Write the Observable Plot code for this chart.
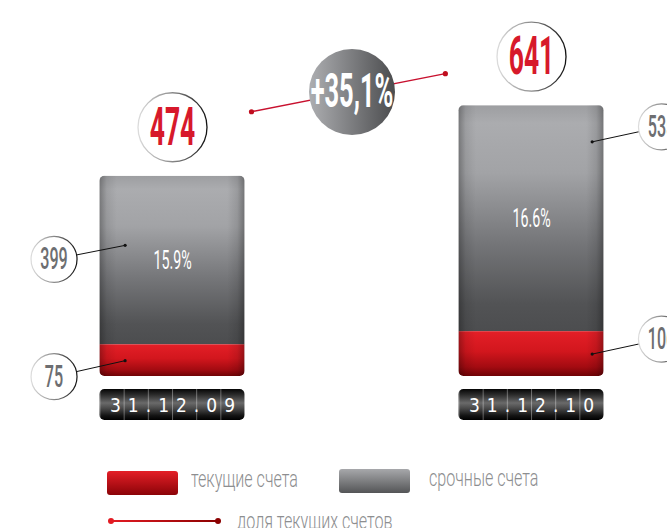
<!DOCTYPE html>
<html><head><meta charset="utf-8">
<script src="https://cdn.jsdelivr.net/npm/d3@7"></script>
<script src="https://cdn.jsdelivr.net/npm/@observablehq/plot@0.6"></script>
<style>
html,body{margin:0;padding:0;background:#fff;}
#wrap{width:667px;height:528px;overflow:hidden;position:relative;}
#chart svg{display:block;}
#legend{position:relative;height:68px;font-family:Roboto,sans-serif;color:#8d8e90;}
.sw{position:absolute;border-radius:3px;}
.lt{position:absolute;font-size:23px;font-weight:300;transform:scaleX(0.7);transform-origin:0 50%;white-space:nowrap;line-height:1;}
.ln{position:absolute;height:2px;background:linear-gradient(to right,#e31b23,#8b0000);}
.ld{position:absolute;width:6px;height:6px;border-radius:50%;}
</style></head><body>
<div id="wrap"><div id="chart"></div><div id="legend"></div></div>
<script>
// ---- data ----
const dates = ["31.12.09", "31.12.10"];
const currentAccounts = [75, 106];
const termDeposits = [399, 535];
const totals = [474, 641];
const shareLabels = ["15.9%", "16.6%"];
const growthLabel = "+35,1%";
const seriesNames = ["текущие счета", "срочные счета"];
const lineName = "доля текущих счетов";

// ---- layout ----
const yMax = 890, yPx = 376;
const k = yMax / yPx;          // value units per pixel
const hw = 0.202;              // half bar width in x units
const lift = 49 * k;           // total circle above bar top
const layout = [
  {circleX: -0.33, dotX: -0.132, greyFrac: 0.59, greyDy: 14, redDy: 16},
  {circleX: 0.362, dotX: 0.169, greyFrac: 0.84, greyDy: -15, redDy: -15}
];

const rows = dates.map((date, i) => ({
  i, date, cur: currentAccounts[i], term: termDeposits[i], total: totals[i], share: shareLabels[i]
}));
const segLabels = rows.flatMap(r => {
  const L = layout[r.i];
  const gy = r.cur + r.term * L.greyFrac;
  const ry = r.cur / 2;
  return [
    {x1: r.i + L.dotX, y1: gy, x2: r.i + L.circleX, y2: gy - L.greyDy * k, label: String(r.term)},
    {x1: r.i + L.dotX, y1: ry, x2: r.i + L.circleX, y2: ry - L.redDy * k, label: String(r.cur)}
  ];
});
const along = t => ({x: t, y: totals[0] + (totals[1] - totals[0]) * t + lift});
const conn = [along(0.22), along(0.76)];
const mid = along(0.5);

const barX = {x1: d => d.i - hw, x2: d => d.i + hw};

// horizontal condensing factor per text size (display face is very narrow)
const squeeze = {"54": 0.49, "48": 0.53, "31": 0.52, "25": 0.57};

const svg = Plot.plot({
  width: 667, height: 460,
  marginTop: 0, marginRight: 0, marginBottom: 0, marginLeft: 0,
  x: {domain: [-0.4791, 1.3788], range: [0, 667], axis: null},
  y: {domain: [0, yMax], range: [yPx, 0], axis: null},
  style: {background: "white", overflow: "hidden"},
  marks: [
    Plot.line(conn, {x: "x", y: "y", stroke: "#c8102e", strokeWidth: 1.5}),
    Plot.dot(conn, {x: "x", y: "y", r: 2.6, fill: "#c00d1e"}),
    Plot.dot([mid], {x: "x", y: "y", r: 43, fill: "url(#gGrowth)"}),
    Plot.text([mid], {x: "x", y: "y", text: () => growthLabel, fill: "white", fontSize: 48, fontWeight: 700, fontFamily: "Roboto"}),
    Plot.dot(rows, {x: "i", y: d => d.total + lift, r: 34.5, fill: "white", stroke: "url(#gRing)", strokeWidth: 1.3}),
    Plot.text(rows, {x: "i", y: d => d.total + lift, text: d => String(d.total), fill: "#d7192b", fontSize: 54, fontWeight: 700, fontFamily: "Roboto"}),
    Plot.rect(rows, {...barX, y1: "cur", y2: "total", fill: "url(#gGrey)"}),
    Plot.rect(rows, {...barX, y1: () => 0, y2: "cur", fill: "url(#gRed)"}),
    Plot.rect(rows, {...barX, y1: () => 0, y2: "total", fill: "url(#gShade)", rx: 5}),
    Plot.text(rows, {x: "i", y: d => d.cur + d.term / 2, text: "share", fill: "white", fontSize: 25, fontFamily: "Roboto"}),
    Plot.link(segLabels, {x1: "x1", y1: "y1", x2: "x2", y2: "y2", stroke: "#111", strokeWidth: 1}),
    Plot.dot(segLabels, {x: "x1", y: "y1", r: 1.6, fill: "#111"}),
    Plot.dot(segLabels, {x: "x2", y: "y2", r: 23, fill: "white", stroke: "url(#gRing)", strokeWidth: 1.2}),
    Plot.text(segLabels, {x: "x2", y: "y2", text: "label", fill: "#6d6e71", fontSize: 31, fontWeight: 500, fontFamily: "Roboto"}),
    Plot.rect(rows, {...barX, y1: () => 0, y2: () => 0, insetTop: 13, insetBottom: -44, rx: 5, fill: "url(#gDate)"}),
    Plot.rect(rows, {...barX, y1: () => 0, y2: () => 0, insetTop: 13, insetBottom: -44, rx: 5, fill: "url(#pDiv)"}),
    Plot.text(rows, {x: "i", y: () => 0, dy: 29, dx: 3.5, text: "date", fill: "white", fontSize: 19, fontFamily: "DejaVu Sans Condensed"})
  ]
});
document.getElementById("chart").appendChild(svg);

// ---- paint servers ----
const sel = d3.select(svg);
const defs = sel.insert("defs", ":first-child");
function lg(id, stops, horiz) {
  const g = defs.append("linearGradient").attr("id", id)
    .attr("x1", 0).attr("y1", 0).attr("x2", horiz ? 1 : 0).attr("y2", horiz ? 0 : 1);
  stops.forEach(([o, c, a]) => g.append("stop").attr("offset", o).attr("stop-color", c).attr("stop-opacity", a == null ? 1 : a));
}
lg("gGrey", [[0, "#9d9ea1"], [0.08, "#abacaf"], [0.3, "#a2a3a6"], [0.6, "#76777a"], [0.88, "#525355"], [1, "#4c4d4f"]]);
lg("gRed", [[0, "#e41f27"], [0.45, "#d2161d"], [0.8, "#a30b11"], [1, "#700205"]]);
lg("gShade", [[0, "#000", 0.3], [0.05, "#000", 0.08], [0.12, "#000", 0], [0.88, "#000", 0], [0.95, "#000", 0.1], [1, "#000", 0.32]], true);
lg("gRing", [[0, "#dcdcdc"], [0.5, "#8a8a8a"], [1, "#111"]], true);
lg("gGrowth", [[0, "#adaeb1"], [1, "#4b4c4e"]], true);
lg("gDate", [[0, "#050505"], [0.18, "#2a2a2a"], [0.45, "#6a6a6a"], [0.62, "#4a4a4a"], [0.85, "#151515"], [1, "#000"]]);
const pat = defs.append("pattern").attr("id", "pDiv").attr("patternUnits", "objectBoundingBox")
  .attr("x", 0).attr("y", 0).attr("width", 1 / 6).attr("height", 1);
pat.append("rect").attr("x", 0).attr("y", 0).attr("width", 1).attr("height", 60).attr("fill", "#ffffff").attr("fill-opacity", 0.35);

// clip the stacked segments to the rounded bar outline
sel.selectAll('g[fill="url(#gShade)"] rect').nodes().forEach((r, i) => {
  defs.append("clipPath").attr("id", "cb" + i).append("rect")
    .attr("x", r.getAttribute("x")).attr("y", r.getAttribute("y"))
    .attr("width", r.getAttribute("width")).attr("height", r.getAttribute("height")).attr("rx", 5);
});
["url(#gGrey)", "url(#gRed)"].forEach(f =>
  sel.selectAll(`g[fill="${f}"] rect`).attr("clip-path", (d, i) => `url(#cb${i})`));

// condensed display type
sel.selectAll('g[font-family="Roboto"]').each(function () {
  const f = squeeze[this.getAttribute("font-size")] || 0.57;
  d3.select(this).selectAll("text").each(function () {
    const w = this.getComputedTextLength();
    this.setAttribute("textLength", w * f);
    this.setAttribute("lengthAdjust", "spacingAndGlyphs");
  });
});
sel.selectAll('g[font-family="DejaVu Sans Condensed"] text').style("letter-spacing", "7px").style("font-stretch", "condensed");

// ---- legend ----
const leg = d3.select("#legend");
leg.append("div").attr("class", "sw").style("left", "107px").style("top", "11px").style("width", "71px").style("height", "24px")
  .style("background", "linear-gradient(#e41f27,#8b0308)");
leg.append("div").attr("class", "lt").style("left", "191px").style("top", "8px").text(seriesNames[0]);
leg.append("div").attr("class", "sw").style("left", "339px").style("top", "9px").style("width", "71px").style("height", "24px")
  .style("background", "linear-gradient(#a7a8ab,#545557)");
leg.append("div").attr("class", "lt").style("left", "429px").style("top", "7px").text(seriesNames[1]);
leg.append("div").attr("class", "ln").style("left", "111px").style("top", "60px").style("width", "107px");
leg.append("div").attr("class", "ld").style("left", "108px").style("top", "58px").style("background", "#e31b23");
leg.append("div").attr("class", "ld").style("left", "215px").style("top", "58px").style("background", "#8b0000");
leg.append("div").attr("class", "lt").style("left", "237px").style("top", "50px").text(lineName);
</script>
</body></html>
